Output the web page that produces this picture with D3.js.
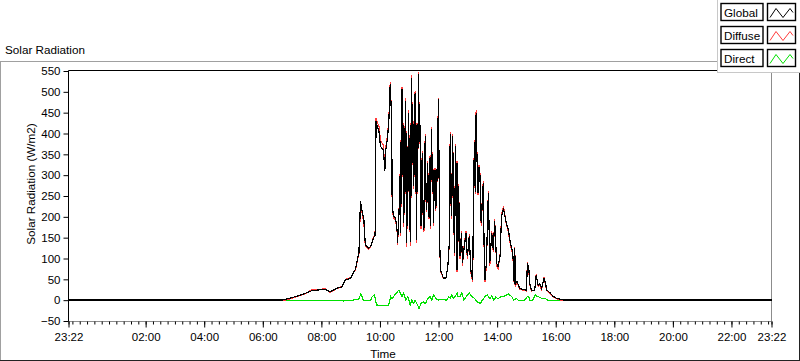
<!DOCTYPE html>
<html>
<head>
<meta charset="utf-8">
<script src="https://cdn.jsdelivr.net/npm/d3@7"></script>
<style>
body { margin: 0; background: #fff; }
text { font-family: "Liberation Sans", Arial, sans-serif; }
</style>
</head>
<body>
<svg id="chart" width="800" height="361"></svg>
<script>
/* Solar Radiation chart - Global / Diffuse / Direct over one day */

// sample times (HH:MM); the first one is the evening before, the rest are the next day
var dayTimes = [
  "23:22","06:40","06:56","07:24","07:41","07:54","08:08","08:18","08:32","08:42",
  "08:49","09:00","09:10","09:17","09:20","09:24","09:27","09:30","09:37","09:41",
  "09:47","09:50","09:52","09:54","09:58","10:01","10:07","10:10","10:11","10:15",
  "10:18","10:21","10:24","10:25","10:28","10:32","10:35","10:36","10:39","10:41",
  "10:42","10:43","10:44","10:45","10:46","10:47","10:48","10:49","10:50","10:52",
  "10:53","10:54","10:55","10:56","10:57","10:58","10:59","11:00","11:02","11:03",
  "11:04","11:05","11:06","11:07","11:09","11:10","11:11","11:12","11:13","11:14",
  "11:15","11:16","11:17","11:19","11:20","11:21","11:22","11:23","11:24","11:25",
  "11:27","11:28","11:30","11:31","11:33","11:34","11:36","11:37","11:39","11:40",
  "11:41","11:43","11:44","11:46","11:47","11:48","11:50","11:51","11:53","11:54",
  "11:56","11:58","12:00","12:02","12:04","12:10","12:15","12:19","12:22","12:23",
  "12:24","12:25","12:27","12:28","12:29","12:31","12:33","12:34","12:35","12:37",
  "12:38","12:39","12:41","12:44","12:47","12:49","12:52","12:56","12:59","13:03",
  "13:06","13:10","13:12","13:14","13:15","13:17","13:18","13:19","13:21","13:23",
  "13:25","13:26","13:28","13:30","13:32","13:33","13:35","13:38","13:42","13:45",
  "13:49","13:52","13:55","13:59","14:02","14:06","14:09","14:13","14:16","14:19",
  "14:23","14:26","14:32","14:34","14:35","14:36","14:38","14:41","14:46","15:00",
  "15:02","15:05","15:07","15:10","15:17","15:20","15:24","15:27","15:31","15:36",
  "15:39","15:42","15:48","15:54","16:01","16:08","16:15","19:15","19:20","23:22"];

var globalVals = [
  0.5,0.5,4.6,15,23,24.5,26,20,28.6,32,
  48.6,52.7,75,115,237,209,193,133,125,129,
  150,155,430,418,405,369,361,309,353,385,
  425,518,434,225,201,197,169,137,209,297,
  162,380,230,506,300,420,185,350,210,478,
  260,400,137,330,200,450,280,390,139,420,
  250,534,330,470,273,430,300,498,260,380,
  145,420,260,542,380,470,410,300,177,300,
  353,220,169,330,394,250,217,330,281,200,
  340,177,300,410,260,350,185,290,313,220,
  241,380,482,153,73,53,53,81,137,300,
  398,250,201,330,394,200,113,280,369,73,
  329,73,273,105,161,89,121,161,105,153,
  73,49,305,380,260,450,380,329,257,320,
  297,200,185,260,281,150,49,89,257,89,
  161,121,189,89,81,105,201,221,201,185,
  169,145,113,73,40,125,40,45,28,24,
  90,73,40,24,24,60,36,40,28,53,
  40,24,18,10,5,2.5,0.5,0.5,0.5,0.5];

var diffuseVals = [
  -1.5,-1.5,3,14,25,26,27,19,28,33,
  50,54,74,112,232,205,185,130,122,128,
  152,158,436,428,418,384,372,315,360,392,
  428,524,430,222,196,192,166,132,212,302,
  155,385,224,512,295,425,176,356,204,484,
  254,405,128,335,194,456,274,396,131,425,
  245,540,325,476,268,436,295,503,254,385,
  138,426,254,547,376,475,406,295,170,305,
  358,214,163,335,399,244,211,335,286,194,
  345,170,305,415,254,355,178,295,318,214,
  236,385,486,148,70,51,52,80,133,305,
  403,244,194,335,398,194,106,285,374,68,
  333,68,278,98,166,83,125,166,98,158,
  68,44,310,385,255,456,384,333,252,325,
  301,195,178,265,286,145,43,84,262,83,
  166,116,194,83,76,108,205,226,203,182,
  164,140,109,70,37,128,36,42,26,22,
  92,68,37,22,23,62,33,38,25,55,
  36,22,16,9,4,1,-1.5,-1.5,0.5,0.5];

var directTimes = [
  "23:22","08:42","08:45","09:04","09:16","09:21","09:26","09:41","09:44","09:49",
  "09:53","10:08","10:18","10:22","10:25","10:30","10:39","10:45","10:48","10:53",
  "10:57","11:02","11:05","11:09","11:12","11:17","11:20","11:24","11:29","11:33",
  "11:38","11:43","11:46","11:50","11:55","11:59","12:04","12:10","12:17","12:21",
  "12:24","12:27","12:31","12:34","12:38","12:40","12:45","12:47","12:52","12:57",
  "13:03","13:08","13:14","13:19","13:25","13:30","13:35","13:40","13:45","13:49",
  "13:53","13:57","14:02","14:09","14:16","14:23","14:30","14:34","14:40","14:43",
  "14:56","15:02","15:05","15:07","15:13","15:18","15:23","15:27","15:32","15:39",
  "15:43","23:22"];

var directVals = [
  0,0,-2,0,2,15,0,-1,8.6,12.6,
  -11.5,-13,-11.5,8.6,3,12,24.5,8.6,17,0,
  8.6,-11.5,0,-8,0,-11.5,-20,-8,-4,-8,
  4,8.6,0,12.6,4,0,1.5,1.5,0,8.6,
  4,12.6,4,8.6,17,8,8.6,20,0,8.6,
  17,8.6,4,-4,-8,0,8.6,12.6,4,10,
  0,7,4,8.6,10,15,8.6,0,4,0,
  0,8.6,7,0,0,12.6,8.6,7,4,4,
  0,0];

var yTicks = [-50,0,50,100,150,200,250,300,350,400,450,500,550];
var xTickTimes = ["23:22","02:00","04:00","06:00","08:00","10:00","12:00","14:00","16:00","18:00","20:00","22:00","23:22"];
var legendNames = ["Global","Diffuse","Direct"];
var legendColors = ["#000000","#ff3b3b","#00e000"];

// set the dimensions of the plot area
var plot = {left: 68.5, top: 70.5, right: 771.5, bottom: 321.5};

var parseHM = d3.timeParse("%Y-%m-%d %H:%M");
// first entry belongs to the day before
function toDate(t, i) {
  return parseHM((i === 0 ? "2000-01-01 " : "2000-01-02 ") + t);
}

var globalData = dayTimes.map(function(t, i) { return {date: toDate(t, i), v: globalVals[i]}; });
var diffuseData = dayTimes.map(function(t, i) { return {date: toDate(t, i), v: diffuseVals[i]}; });
var directData = directTimes.map(function(t, i) { return {date: toDate(t, i), v: directVals[i]}; });

var start = toDate("23:22", 0), end = toDate("23:22", 1);

var x = d3.scaleTime().domain([start, end]).range([plot.left, plot.right]);
var y = d3.scaleLinear().domain([-50, 550]).range([plot.bottom - 0.5, plot.top + 0.5]);

var svg = d3.select("#chart");

// outer panel
svg.append("rect").attr("x", 0).attr("y", 0).attr("width", 800).attr("height", 361).attr("fill", "#fff");
svg.append("line").attr("x1", 0).attr("x2", 800).attr("y1", 61.5).attr("y2", 61.5).attr("stroke", "#a0a0a0");
svg.append("line").attr("x1", 0.5).attr("x2", 0.5).attr("y1", 61).attr("y2", 361).attr("stroke", "#a0a0a0");
svg.append("line").attr("x1", 0).attr("x2", 800).attr("y1", 360.5).attr("y2", 360.5).attr("stroke", "#222");
svg.append("line").attr("x1", 799.5).attr("x2", 799.5).attr("y1", 61).attr("y2", 361).attr("stroke", "#222");

svg.append("text").attr("x", 5).attr("y", 54).attr("font-size", "11.7px").attr("fill", "#000").text("Solar Radiation");

// plot frame
svg.append("line").attr("x1", plot.right).attr("x2", plot.right).attr("y1", plot.top).attr("y2", plot.bottom).attr("stroke", "#8c8c8c");
svg.append("line").attr("x1", plot.left).attr("x2", plot.right).attr("y1", plot.bottom).attr("y2", plot.bottom).attr("stroke", "#8c8c8c");
svg.append("line").attr("x1", plot.left).attr("x2", plot.right).attr("y1", plot.top).attr("y2", plot.top).attr("stroke", "#000");
svg.append("line").attr("x1", plot.left).attr("x2", plot.left).attr("y1", plot.top).attr("y2", plot.bottom).attr("stroke", "#000");

// define the lines
var valueline = d3.line()
    .x(function(d) { return x(d.date); })
    .y(function(d) { return y(d.v); });

svg.append("path").datum(directData).attr("d", valueline)
  .attr("fill", "none").attr("stroke", legendColors[2]).attr("stroke-width", 1.2).attr("shape-rendering", "crispEdges");
svg.append("path").datum(diffuseData).attr("d", valueline)
  .attr("fill", "none").attr("stroke", legendColors[1]).attr("stroke-width", 1.2).attr("shape-rendering", "crispEdges");
svg.append("path").datum(globalData).attr("d", valueline)
  .attr("fill", "none").attr("stroke", legendColors[0]).attr("stroke-width", 1.2).attr("shape-rendering", "crispEdges");

// Y axis
var yAxis = svg.append("g")
    .attr("transform", "translate(" + plot.left + ",0)")
    .call(d3.axisLeft(y).tickValues(yTicks).tickSize(5).tickSizeOuter(0).tickPadding(3));
yAxis.select(".domain").remove();
yAxis.selectAll("text").attr("font-size", "11.5px").attr("font-family", "Liberation Sans, Arial, sans-serif").attr("fill", "#000");

// X axis: minor ticks every 15 minutes, labelled major ticks
var minorDates = d3.timeMinute.every(15).range(start, end);
var majorDates = xTickTimes.map(function(t, i) { return toDate(t, i === 0 ? 0 : 1); });

var xMinor = svg.append("g")
    .attr("transform", "translate(0," + plot.bottom + ")")
    .call(d3.axisBottom(x).tickValues(minorDates.concat([start, end])).tickSize(3).tickSizeOuter(0).tickFormat(""));
xMinor.select(".domain").remove();

var xAxis = svg.append("g")
    .attr("transform", "translate(0," + plot.bottom + ")")
    .call(d3.axisBottom(x).tickValues(majorDates).tickSize(6).tickSizeOuter(0).tickPadding(5)
      .tickFormat(function(d, i) { return xTickTimes[i]; }));
xAxis.select(".domain").remove();
xAxis.selectAll("text").attr("font-size", "11.5px").attr("font-family", "Liberation Sans, Arial, sans-serif").attr("fill", "#000");

// axis titles
svg.append("text").attr("x", 383).attr("y", 358).attr("text-anchor", "middle")
  .attr("font-size", "11.7px").attr("fill", "#000").text("Time");
svg.append("text").attr("transform", "translate(35,184) rotate(-90)").attr("text-anchor", "middle")
  .attr("font-size", "11.7px").attr("fill", "#000").text("Solar Radiation (W/m2)");

// legend
var legend = svg.append("g");
legend.append("rect").attr("x", 717).attr("y", 0).attr("width", 83).attr("height", 72).attr("fill", "#fff");
legend.append("line").attr("x1", 717.5).attr("x2", 717.5).attr("y1", 0).attr("y2", 73).attr("stroke", "#c8c8c8");
legend.append("line").attr("x1", 717).attr("x2", 800).attr("y1", 72.5).attr("y2", 72.5).attr("stroke", "#c8c8c8");

legendNames.forEach(function(name, i) {
  var top = 3.5 + i * 23;
  legend.append("rect").attr("x", 721).attr("y", top).attr("width", 42).attr("height", 17)
    .attr("fill", "#fff").attr("stroke", "#000").attr("stroke-width", 1.4);
  legend.append("text").attr("x", 724).attr("y", top + 13.5).attr("font-size", "11.7px").attr("fill", "#000").text(name);
  legend.append("rect").attr("x", 767.5).attr("y", top).attr("width", 28).attr("height", 17)
    .attr("fill", "#fff").attr("stroke", "#000").attr("stroke-width", 1.4);
  legend.append("path")
    .attr("d", "M" + 770 + "," + (top + 14) + "L" + 776 + "," + (top + 5) + "L" + 783 + "," + (top + 14) + "L" + 790 + "," + (top + 5) + "L" + 793 + "," + (top + 9))
    .attr("fill", "none").attr("stroke", legendColors[i]).attr("stroke-width", 1);
});
</script>
</body>
</html>
